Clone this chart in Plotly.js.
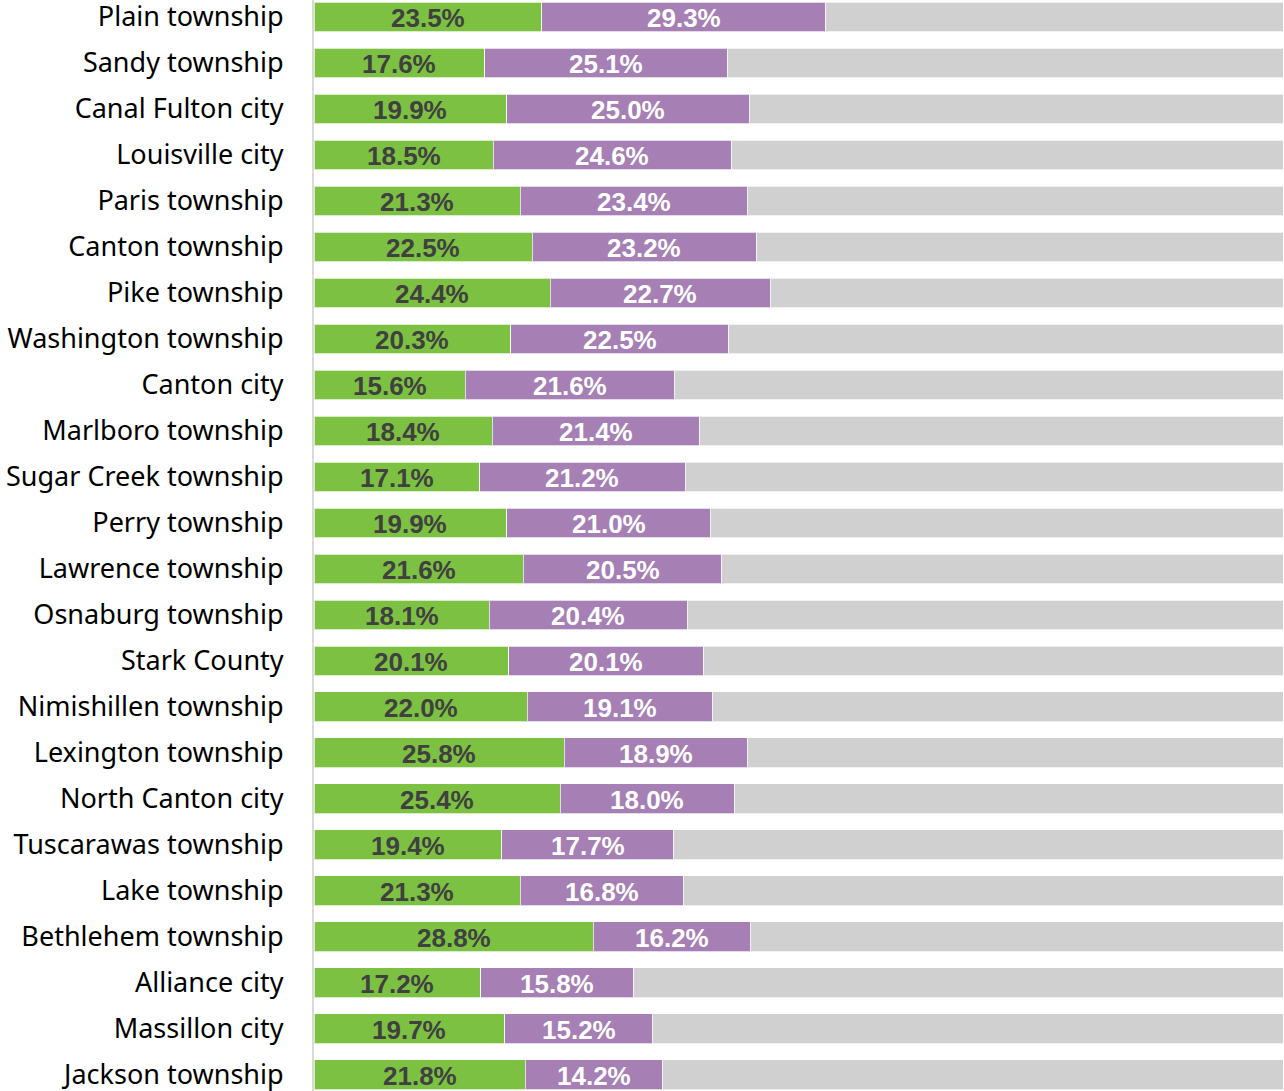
<!DOCTYPE html>
<html>
<head>
<meta charset="utf-8">
<script src="https://cdn.plot.ly/plotly-3.0.1.min.js"></script>
<style>
html,body{margin:0;padding:0;background:#fff;}
#chart{width:1284px;height:1091px;}
</style>
</head>
<body>
<div id="chart"></div>
<script>
const categories = ["Plain township","Sandy township","Canal Fulton city","Louisville city","Paris township","Canton township","Pike township","Washington township","Canton city","Marlboro township","Sugar Creek township","Perry township","Lawrence township","Osnaburg township","Stark County","Nimishillen township","Lexington township","North Canton city","Tuscarawas township","Lake township","Bethlehem township","Alliance city","Massillon city","Jackson township"];
const greenValues = [23.5,17.6,19.9,18.5,21.3,22.5,24.4,20.3,15.6,18.4,17.1,19.9,21.6,18.1,20.1,22.0,25.8,25.4,19.4,21.3,28.8,17.2,19.7,21.8];
const purpleValues = [29.3,25.1,25.0,24.6,23.4,23.2,22.7,22.5,21.6,21.4,21.2,21.0,20.5,20.4,20.1,19.1,18.9,18.0,17.7,16.8,16.2,15.8,15.2,14.2];
const totalValue = 100;
const restValues = greenValues.map((g,i)=> +(totalValue - g - purpleValues[i]).toFixed(1));

const barLine = {width:1, color:'rgba(255,255,255,0.7)'};
const labelFamily = '"Liberation Sans Narrow", "Arial Narrow", "Liberation Sans", Arial, sans-serif';

const traces = [
  {type:'bar', orientation:'h', y:categories, x:greenValues, name:'green',
   marker:{color:'#7DC142', line:barLine}, width:0.65, hoverinfo:'none'},
  {type:'bar', orientation:'h', y:categories, x:purpleValues, name:'purple',
   marker:{color:'#A680B5', line:barLine}, width:0.65, hoverinfo:'none'},
  {type:'bar', orientation:'h', y:categories, x:restValues, name:'rest',
   marker:{color:'#D0D0D0', line:barLine}, width:0.65, hoverinfo:'none'}
];

const annotations = [];
categories.forEach((c,i)=>{
  annotations.push({x:greenValues[i]/2, y:c, xref:'x', yref:'y', showarrow:false,
    text:'<b>'+greenValues[i].toFixed(1)+'%</b>', yshift:-1,
    font:{family:labelFamily, size:26, color:'#404040'}});
  annotations.push({x:greenValues[i]+purpleValues[i]/2, y:c, xref:'x', yref:'y', showarrow:false,
    text:'<b>'+purpleValues[i].toFixed(1)+'%</b>', yshift:-1,
    font:{family:labelFamily, size:26, color:'#ffffff'}});
});

const layout = {
  width:1284, height:1091,
  margin:{l:314, r:1, t:0, b:0, pad:0},
  barmode:'stack',
  showlegend:false,
  plot_bgcolor:'#fff', paper_bgcolor:'#fff',
  annotations:annotations,
  xaxis:{range:[0,100], showgrid:false, zeroline:false, showticklabels:false, fixedrange:true},
  yaxis:{type:'category', range:[23.35,-0.37], showgrid:false, zeroline:false,
         showline:true, linecolor:'#D9D9D9', linewidth:2,
         ticks:'', ticklabelstandoff:23,
         tickfont:{family:'"Noto Sans", "Open Sans", sans-serif', size:27, color:'#000'}}
};

Plotly.newPlot('chart', traces, layout, {staticPlot:true, displayModeBar:false});
</script>
</body>
</html>
